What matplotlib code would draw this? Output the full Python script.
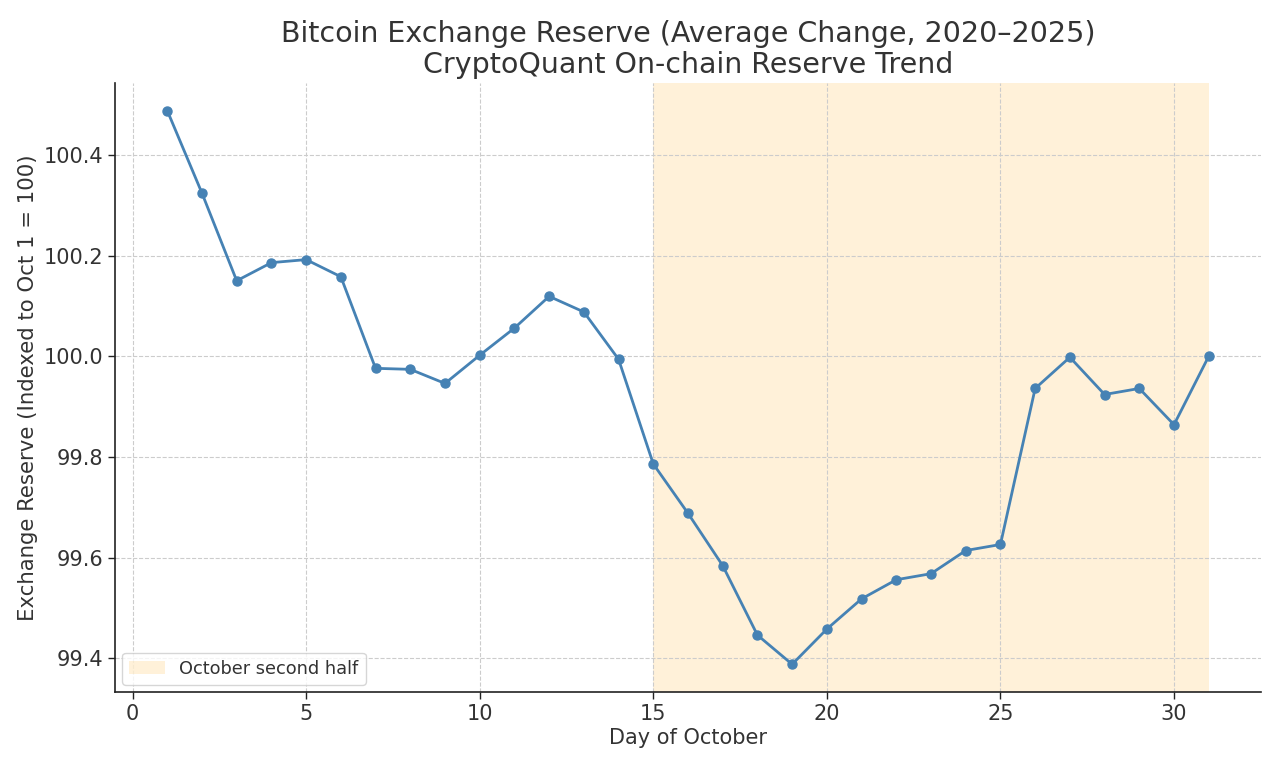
import matplotlib
matplotlib.use("Agg")
import matplotlib.pyplot as plt

days = list(range(1, 32))
reserve = [100.488, 100.324, 100.150, 100.186, 100.192, 100.158, 99.976, 99.974,
           99.946, 100.002, 100.056, 100.119, 100.088, 99.994, 99.786, 99.688,
           99.584, 99.446, 99.388, 99.458, 99.518, 99.556, 99.568, 99.614,
           99.626, 99.936, 99.998, 99.924, 99.936, 99.864, 100.000]
shade_start, shade_end = 15, 31

plt.rcParams['font.family'] = ['DejaVu Sans']
text_color = '#333333'

fig, ax = plt.subplots(figsize=(12.8, 7.68), dpi=100)
fig.subplots_adjust(left=0.09, right=0.985, top=0.892, bottom=0.099)

ax.axvspan(shade_start, shade_end, color='orange', alpha=0.15, lw=0,
           label='October second half', zorder=0)
ax.plot(days, reserve, color='#4682B4', lw=2, marker='o', ms=6.5, zorder=3)

ax.grid(True, linestyle='--', color='#cccccc', lw=0.8, zorder=1)
ax.set_axisbelow(True)
for s in ['top', 'right']:
    ax.spines[s].set_visible(False)
for s in ['left', 'bottom']:
    ax.spines[s].set_linewidth(1.2)
    ax.spines[s].set_color('#222222')

ax.set_yticks([99.4, 99.6, 99.8, 100.0, 100.2, 100.4])
ax.set_xticks([0, 5, 10, 15, 20, 25, 30])
ax.tick_params(labelsize=15, colors='#222222', labelcolor=text_color, length=5, width=1)

ax.set_title('Bitcoin Exchange Reserve (Average Change, 2020\u20132025)\nCryptoQuant On-chain Reserve Trend',
             fontsize=20.5, color=text_color, linespacing=1.15, pad=7)
ax.set_xlabel('Day of October', fontsize=15, color=text_color, labelpad=3)
ax.set_ylabel('Exchange Reserve (Indexed to Oct 1 = 100)', fontsize=15.3, color=text_color)

leg = ax.legend(loc='lower left', fontsize=12.8, frameon=True, handlelength=2.0,
                borderaxespad=0.4)
for t in leg.get_texts():
    t.set_color(text_color)

fig.savefig('out.png', dpi=100)
